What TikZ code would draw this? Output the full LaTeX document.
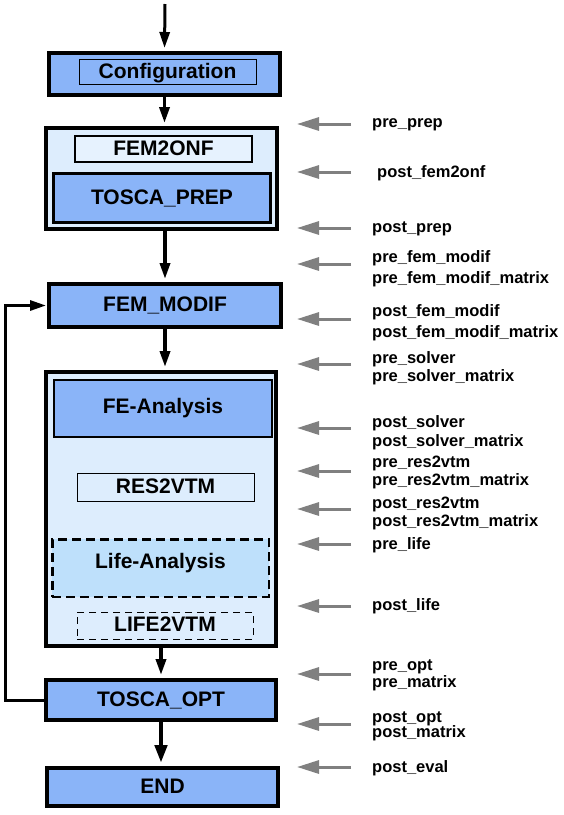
\documentclass[tikz,border=0pt]{standalone}
\usepackage{fontspec}
\setmainfont{Liberation Sans}
\usetikzlibrary{arrows.meta}
\definecolor{midblue}{RGB}{138,180,248}
\definecolor{paleblue}{RGB}{221,237,253}
\definecolor{palerblue}{RGB}{230,242,254}
\definecolor{lifeblue}{RGB}{190,224,251}
\definecolor{arrowgray}{RGB}{128,128,128}
\tikzset{
  boxfont/.style={font=\fontsize{21}{24}\selectfont\bfseries, text height=16pt, text depth=3.5pt},
  mainbox/.style={draw, line width=4pt, fill=midblue, inner sep=0pt, boxfont},
  groupbox/.style={draw, line width=4pt, fill=paleblue, inner sep=0pt},
  thinbox/.style={draw, line width=1pt, inner sep=0pt, boxfont},
  subbox/.style={draw, fill=midblue, inner sep=0pt, boxfont},
  flowarrow/.style={draw, line width=3.5pt, -{Triangle[length=16pt,width=10pt]}, shorten >=3pt},
  grayarrow/.style={draw=arrowgray, line width=3pt, -{Triangle[length=22pt,width=13pt]}},
  hooklabel/.style={anchor=west, align=left, inner sep=0pt, font=\fontsize{16.5}{18}\selectfont\bfseries}
}
\begin{document}
\begin{tikzpicture}[x=1pt,y=-1pt]
\useasboundingbox[fill=white] (0,0) rectangle (564,815);

% main flow
\coordinate (topstart) at (165,4);
\node[mainbox, minimum width=231, minimum height=42] (config) at (164.5,74) {};
\node[thinbox, minimum width=177, minimum height=25, text height=17pt, text depth=3pt] (configlbl) at (167.5,71.5) {Configuration};

\node[groupbox, minimum width=231, minimum height=101] (group1) at (161.5,178.5) {};
\node[thinbox, line width=1.2pt, fill=palerblue, minimum width=177, minimum height=26] (fem2onf) at (163.5,149) {FEM2ONF};
\node[subbox, line width=3pt, minimum width=217, minimum height=49] (toscaprep) at (162,198) {TOSCA\_PREP};

\node[mainbox, minimum width=232, minimum height=43] (femmodif) at (165,305.5) {FEM\_MODIF};

\node[groupbox, minimum width=230, minimum height=274] (group2) at (161,509) {};
\node[subbox, line width=2pt, minimum width=218, minimum height=57, text height=12pt, text depth=3pt] (fea) at (163,408.5) {FE-Analysis};
\node[thinbox, minimum width=177, minimum height=28] (res2vtm) at (165.5,487) {RES2VTM};
\node[draw, dashed, dash pattern=on 9pt off 5pt, line width=2.5pt, fill=lifeblue, inner sep=0pt, boxfont,
      minimum width=216.5, minimum height=57.5, text height=10pt, text depth=10pt] (life) at (160.5,568) {Life-Analysis};
\node[thinbox, dash pattern=on 7pt off 5pt, minimum width=176, minimum height=27] (life2vtm) at (165,625.5) {LIFE2VTM};

\node[mainbox, minimum width=230, minimum height=40] (toscaopt) at (161,700) {TOSCA\_OPT};
\node[mainbox, minimum width=231, minimum height=38] (endbox) at (162.5,787) {END};

\draw[flowarrow, line width=3pt] (topstart) -- (config.north);
\draw[flowarrow] (config.south) -- (config.south |- group1.north);
\draw[flowarrow] (femmodif.north |- group1.south) -- (femmodif.north);
\draw[flowarrow] (femmodif.south) -- (femmodif.south |- group2.north);
\draw[flowarrow] (toscaopt.north |- group2.south) -- (toscaopt.north);
\draw[flowarrow, line width=4.5pt, -{Triangle[length=18pt,width=12pt]}] (toscaopt.south) -- (toscaopt.south |- endbox.north);
\draw[flowarrow, line width=3pt, shorten >=1pt] (toscaopt.west) -- ++(-39,0) |- (femmodif.west);

% hook labels
\node[hooklabel] (l1) at (372,125) {pre\_prep};
\node[hooklabel] (l2) at (377,173) {post\_fem2onf};
\node[hooklabel] (l3) at (372,229) {post\_prep};
\node[hooklabel] (l4) at (372,268.5) {pre\_fem\_modif\\[3pt]pre\_fem\_modif\_matrix};
\node[hooklabel] (l5) at (372,322.5) {post\_fem\_modif\\[3pt]post\_fem\_modif\_matrix};
\node[hooklabel] (l6) at (372,368) {pre\_solver\\pre\_solver\_matrix};
\node[hooklabel] (l7) at (372,432.5) {post\_solver\\[1pt]post\_solver\_matrix};
\node[hooklabel] (l8) at (372,472) {pre\_res2vtm\\pre\_res2vtm\_matrix};
\node[hooklabel] (l9) at (372,513) {post\_res2vtm\\post\_res2vtm\_matrix};
\node[hooklabel] (l10) at (372,545) {pre\_life};
\node[hooklabel] (l11) at (372,606) {post\_life};
\node[hooklabel] (l12) at (372,675.5) {pre\_opt\\[-1pt]pre\_matrix};
\node[hooklabel] (l13) at (372,726.5) {post\_opt\\[-3pt]post\_matrix};
\node[hooklabel] (l14) at (372,768) {post\_eval};

% gray hook arrows
\draw[grayarrow] ([xshift=-21pt,yshift=1pt]l1.west) -- ++(-54,0);
\draw[grayarrow] ([xshift=-26pt,yshift=1pt]l2.west) -- ++(-54,0);
\draw[grayarrow] ([xshift=-21pt,yshift=1pt]l3.west) -- ++(-54,0);
\draw[grayarrow] ([xshift=-21pt,yshift=4.5pt]l4.west) -- ++(-54,0);
\draw[grayarrow] ([xshift=-21pt,yshift=3.5pt]l5.west) -- ++(-54,0);
\draw[grayarrow] ([xshift=-21pt,yshift=4pt]l6.west) -- ++(-54,0);
\draw[grayarrow] ([xshift=-21pt,yshift=4.5pt]l7.west) -- ++(-54,0);
\draw[grayarrow] ([xshift=-21pt,yshift=1pt]l8.west) -- ++(-54,0);
\draw[grayarrow] ([xshift=-21pt,yshift=4pt]l9.west) -- ++(-54,0);
\draw[grayarrow] ([xshift=-21pt,yshift=1pt]l10.west) -- ++(-54,0);
\draw[grayarrow] ([xshift=-21pt,yshift=0pt]l11.west) -- ++(-54,0);
\draw[grayarrow] ([xshift=-21pt,yshift=1.5pt]l12.west) -- ++(-54,0);
\draw[grayarrow] ([xshift=-21pt,yshift=2.5pt]l13.west) -- ++(-54,0);
\draw[grayarrow] ([xshift=-21pt,yshift=1pt]l14.west) -- ++(-54,0);
\end{tikzpicture}
\end{document}
